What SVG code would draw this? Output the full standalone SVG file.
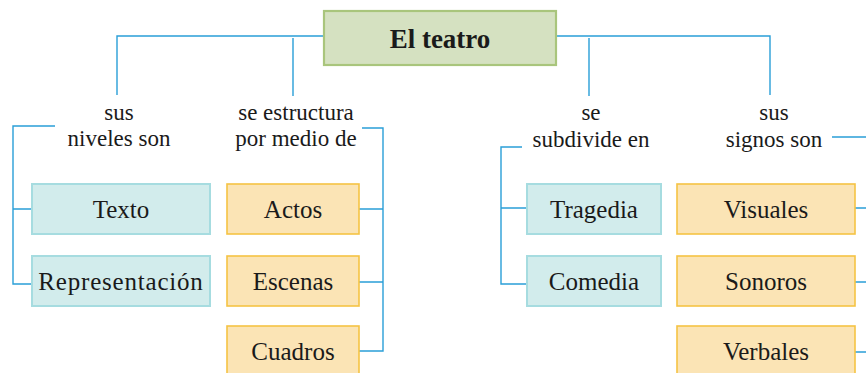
<svg xmlns="http://www.w3.org/2000/svg" width="866" height="373" viewBox="0 0 866 373">
<style>
.c{fill:none;stroke:#2a9fd8;stroke-width:1.4}
.t{font-family:"Liberation Serif",serif;fill:#1a1a1a;text-anchor:middle}
.box{font-size:25px}
.lab{font-size:23px}
.blue{fill:#d2ecec;stroke:#a6dce0;stroke-width:2}
.org{fill:#fbe4b5;stroke:#f5c344;stroke-width:1.6}
</style>
<rect width="866" height="373" fill="#fff"/>
<g id="connectors">
<path class="c" d="M323,36H117V95M293,38V96M557,36H770V95M589,38V96"/>
<path class="c" d="M55,126H13V284H32M13,209H32"/>
<path class="c" d="M362,128H383V351H359M359,209H383M359,282H383"/>
<path class="c" d="M522,147H501V284H526M501,208H526"/>
<path class="c" d="M832,137H866M855,208H866M855,282H866M855,352H866"/>
</g>
<g id="title">
<rect x="324" y="11" width="232" height="54" fill="#d5e1c1" stroke="#a9c57c" stroke-width="2.2"/>
<text class="t" x="440" y="48" font-size="27px" font-weight="bold">El teatro</text>
</g>
<g id="label1"><text class="t lab" x="119" y="120">sus</text><text class="t lab" x="119" y="146">niveles son</text></g>
<g id="label2"><text class="t lab" x="296" y="120">se estructura</text><text class="t lab" x="296" y="146">por medio de</text></g>
<g id="label3"><text class="t lab" x="591" y="120">se</text><text class="t lab" x="591" y="147">subdivide en</text></g>
<g id="label4"><text class="t lab" x="774" y="120">sus</text><text class="t lab" x="774" y="147">signos son</text></g>
<g id="texto"><rect class="blue" x="32" y="184" width="178" height="50"/><text class="t box" x="121" y="218">Texto</text></g>
<g id="representacion"><rect class="blue" x="32" y="256" width="178" height="50"/><text class="t box" x="121" y="290" letter-spacing="0.8">Representación</text></g>
<g id="actos"><rect class="org" x="227" y="184" width="132" height="50"/><text class="t box" x="293" y="218">Actos</text></g>
<g id="escenas"><rect class="org" x="227" y="256" width="132" height="50"/><text class="t box" x="293" y="290">Escenas</text></g>
<g id="cuadros"><rect class="org" x="227" y="326" width="132" height="52"/><text class="t box" x="293" y="360">Cuadros</text></g>
<g id="tragedia"><rect class="blue" x="527" y="184" width="134" height="50"/><text class="t box" x="594" y="218">Tragedia</text></g>
<g id="comedia"><rect class="blue" x="527" y="256" width="134" height="50"/><text class="t box" x="594" y="290">Comedia</text></g>
<g id="visuales"><rect class="org" x="677" y="184" width="178" height="50"/><text class="t box" x="766" y="218">Visuales</text></g>
<g id="sonoros"><rect class="org" x="677" y="256" width="178" height="50"/><text class="t box" x="766" y="290">Sonoros</text></g>
<g id="verbales"><rect class="org" x="677" y="326" width="178" height="52"/><text class="t box" x="766" y="360">Verbales</text></g>
</svg>
